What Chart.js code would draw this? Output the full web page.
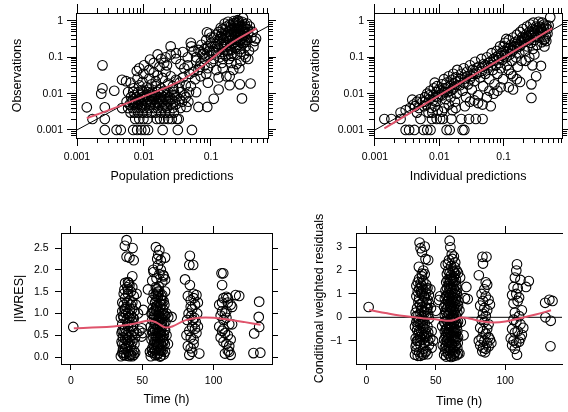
<!DOCTYPE html>
<html>
<head>
<meta charset="utf-8">
<script src="https://cdn.jsdelivr.net/npm/chart.js@4.4.0/dist/chart.umd.min.js"></script>
<style>
  html, body { margin: 0; padding: 0; background: #fff; width: 568px; height: 412px; overflow: hidden; }
  canvas { position: absolute; }
</style>
</head>
<body>
<canvas id="pred" width="284" height="206" style="left:0;top:0"></canvas>
<canvas id="ipred" width="284" height="206" style="left:284px;top:0"></canvas>
<canvas id="iwres" width="284" height="206" style="left:0;top:206px"></canvas>
<canvas id="cwres" width="284" height="206" style="left:284px;top:206px"></canvas>
<script>
// tick values
const logMajor = [0.001, 0.01, 0.1, 1];
const logMinor = [0.0006, 0.0007, 0.0008, 0.0009,
  0.002, 0.003, 0.004, 0.005, 0.006, 0.007, 0.008, 0.009,
  0.02, 0.03, 0.04, 0.05, 0.06, 0.07, 0.08, 0.09,
  0.2, 0.3, 0.4, 0.5, 0.6, 0.7, 0.8, 0.9];
const timeTicks = [0, 50, 100];
const iwresTicks = [0, 0.5, 1, 1.5, 2, 2.5];
const cwresTicks = [-1, 0, 1, 2, 3];

// [population prediction, observation]
const obsVsPred = [
  [0.0026,0.001],[0.0039,0.001],[0.0045,0.001],[0.0069,0.001],[0.0079,0.001],[0.0091,0.001],[0.0103,0.001],[0.0115,0.001],[0.019,0.001],[0.032,0.001],[0.052,0.001],
  [0.0017,0.002],[0.0026,0.002],[0.0074,0.002],[0.0085,0.002],[0.0098,0.002],[0.0113,0.002],[0.0155,0.002],[0.0174,0.002],[0.0199,0.002],[0.023,0.002],[0.026,0.002],[0.031,0.002],[0.033,0.002],
  [0.0014,0.0042],[0.0026,0.0042],[0.0024,0.06],[0.0024,0.014],[0.0023,0.01],[0.0036,0.012],[0.0047,0.024],[0.0054,0.022],[0.0063,0.02],
  [0.0063,0.003],[0.0072,0.003],[0.0082,0.003],[0.0095,0.003],[0.011,0.003],[0.013,0.003],[0.015,0.003],[0.018,0.003],[0.021,0.003],[0.024,0.003],[0.028,0.003],
  [0.0047,0.004],[0.0058,0.004],[0.0068,0.004],[0.0077,0.004],[0.0088,0.004],[0.0101,0.004],[0.012,0.004],[0.014,0.004],[0.016,0.004],[0.019,0.004],[0.022,0.004],[0.027,0.004],[0.035,0.004],[0.043,0.0043],[0.065,0.0043],[0.088,0.0043],
  [0.0061,0.005],[0.007,0.005],[0.0081,0.005],[0.0093,0.005],[0.0107,0.005],[0.0125,0.005],[0.0145,0.005],[0.017,0.005],[0.02,0.005],[0.025,0.005],[0.03,0.005],
  [0.0055,0.006],[0.0066,0.006],[0.0076,0.006],[0.009,0.006],[0.011,0.006],[0.013,0.006],[0.016,0.006],[0.019,0.006],[0.023,0.006],[0.029,0.006],[0.037,0.006],[0.046,0.006],
  [0.0068,0.007],[0.0083,0.007],[0.0098,0.007],[0.0118,0.007],[0.014,0.007],[0.017,0.007],[0.021,0.007],[0.026,0.007],[0.034,0.007],[0.11,0.0072],[0.29,0.0074],
  [0.0064,0.008],[0.0078,0.008],[0.0094,0.008],[0.011,0.008],[0.013,0.008],[0.016,0.008],[0.02,0.008],[0.024,0.008],[0.031,0.008],[0.042,0.008],
  [0.0072,0.009],[0.0088,0.009],[0.0105,0.009],[0.0125,0.009],[0.015,0.009],[0.018,0.009],[0.022,0.009],[0.028,0.009],
  [0.0058,0.011],[0.0069,0.011],[0.0082,0.011],[0.0097,0.011],[0.0115,0.011],[0.0135,0.011],[0.016,0.011],[0.019,0.011],[0.023,0.011],[0.028,0.011],[0.036,0.011],[0.047,0.011],[0.06,0.011],
  [0.0072,0.0055],[0.0085,0.0065],[0.0095,0.0045],[0.011,0.0095],[0.0125,0.0065],[0.014,0.0085],[0.016,0.0055],[0.018,0.0075],[0.021,0.0045],[0.024,0.0065],
  [0.027,0.013],[0.012,0.013],[0.0092,0.0125],[0.015,0.016],[0.02,0.012],[0.033,0.014],[0.04,0.009],[0.05,0.016],[0.055,0.04],[0.045,0.06],
  [0.007,0.014],[0.0085,0.017],[0.0095,0.021],[0.011,0.015],[0.012,0.026],[0.013,0.018],[0.015,0.022],[0.016,0.032],[0.018,0.014],[0.019,0.027],[0.021,0.04],[0.023,0.019],
  [0.025,0.03],[0.027,0.016],[0.03,0.024],[0.034,0.02],[0.038,0.028],[0.042,0.017],[0.008,0.026],[0.0098,0.035],[0.012,0.045],[0.014,0.038],[0.017,0.055],[0.02,0.07],
  [0.01,0.06],[0.0085,0.05],[0.0078,0.042],[0.0123,0.087],[0.014,0.07],[0.025,0.12],[0.025,0.2],[0.03,0.13],[0.03,0.09],[0.035,0.065],[0.04,0.05],[0.045,0.1],
  [0.051,0.2],[0.05,0.25],[0.055,0.15],[0.06,0.08],[0.065,0.045],[0.07,0.03],[0.075,0.12],[0.08,0.06],[0.087,0.49],[0.09,0.02],[0.095,0.15],[0.048,0.035],
  [0.058,0.025],[0.068,0.055],[0.038,0.14],[0.021,0.1],[0.018,0.09],[0.016,0.12],[0.022,0.06],
  [0.06,0.1],[0.065,0.16],[0.07,0.07],[0.072,0.22],[0.078,0.13],[0.08,0.09],[0.085,0.3],[0.088,0.18],[0.09,0.05],[0.095,0.11],[0.1,0.24],[0.1,0.07],
  [0.105,0.15],[0.11,0.35],[0.11,0.09],[0.115,0.2],[0.12,0.13],[0.12,0.045],[0.125,0.28],[0.13,0.5],[0.13,0.17],[0.135,0.1],[0.14,0.38],[0.14,0.23],
  [0.145,0.07],[0.15,0.14],[0.15,0.6],[0.155,0.3],[0.16,0.19],[0.16,0.45],[0.165,0.11],[0.17,0.25],[0.17,0.7],[0.175,0.35],[0.18,0.16],[0.18,0.5],
  [0.185,0.09],[0.19,0.28],[0.19,0.8],[0.2,0.4],[0.2,0.21],[0.205,0.6],[0.21,0.13],[0.21,0.33],[0.215,0.045],[0.22,0.5],[0.22,0.25],[0.225,0.75],
  [0.23,0.18],[0.23,0.38],[0.235,0.9],[0.24,0.3],[0.24,0.55],[0.245,0.12],[0.25,0.45],[0.25,0.65],[0.255,0.22],[0.26,0.35],[0.26,0.8],[0.265,0.05],
  [0.27,0.28],[0.27,0.52],[0.275,0.17],[0.28,0.42],[0.28,0.7],[0.29,0.95],[0.29,0.33],[0.3,0.6],[0.3,0.24],[0.31,0.12],[0.31,0.48],[0.32,0.8],
  [0.32,0.38],[0.33,0.2],[0.34,0.6],[0.35,0.3],[0.36,0.45],[0.37,0.15],[0.38,0.7],[0.4,0.35],[0.42,0.5],[0.45,0.28],[0.47,0.33],[0.3,1.2],
  [0.22,1.0],[0.18,0.95],[0.25,1.05],[0.16,0.85],[0.14,0.65],[0.12,0.42],[0.1,0.35],[0.095,0.45],[0.19,0.03],[0.27,0.018],[0.39,0.019],[0.13,0.013],
  [0.17,0.03],[0.13,0.028],[0.24,0.065],[0.28,0.08],[0.33,0.1],[0.2,0.07],[0.15,0.05],[0.085,0.035],[0.19,0.017],[0.36,0.09],[0.43,0.2],[0.2,0.11],
  [0.125,0.2],[0.135,0.32],[0.145,0.45],[0.155,0.22],[0.165,0.58],[0.175,0.15],[0.185,0.38],[0.195,0.55],[0.205,0.3],[0.215,0.85],
  [0.225,0.4],[0.235,0.27],[0.245,0.7],[0.255,0.9],[0.265,0.6],[0.275,0.45],[0.285,0.25],[0.295,0.75],[0.305,0.4],[0.315,0.65],
  [0.325,0.5],[0.335,0.3],[0.345,0.85],[0.355,0.6],[0.2,0.16],[0.24,0.19],[0.28,0.14],[0.18,0.12],[0.15,0.09],[0.32,0.27],
  [0.26,1.0],[0.2,0.75],[0.22,0.65],[0.17,0.4],[0.15,0.35],[0.13,0.26],[0.11,0.14],[0.09,0.2],[0.08,0.17],[0.07,0.14]
];

// [individual prediction, observation]
const obsVsIpred = [
  [0.003,0.001],[0.0034,0.001],[0.0041,0.001],[0.0057,0.001],[0.0065,0.001],[0.0073,0.001],[0.013,0.001],[0.0145,0.001],[0.023,0.001],[0.0245,0.001],
  [0.0014,0.002],[0.0018,0.002],[0.0025,0.002],[0.0051,0.002],[0.0077,0.002],[0.0091,0.002],[0.0103,0.002],[0.0114,0.002],[0.0154,0.002],[0.022,0.002],[0.029,0.002],[0.037,0.002],[0.047,0.002],
  [0.0025,0.003],[0.003,0.0035],[0.0035,0.004],[0.0038,0.0068],[0.004,0.005],[0.0045,0.006],[0.0048,0.004],[0.005,0.007],[0.0045,0.003],[0.0042,0.0045],
  [0.0055,0.006],[0.006,0.008],[0.0062,0.005],[0.0065,0.01],[0.007,0.007],[0.0072,0.012],[0.0075,0.004],[0.008,0.009],[0.0082,0.014],[0.0085,0.02],
  [0.0088,0.006],[0.009,0.011],[0.0092,0.016],[0.0095,0.008],[0.0098,0.013],[0.0068,0.003],[0.0078,0.003],[0.0085,0.0045],[0.0095,0.0035],[0.0058,0.0045],
  [0.0105,0.012],[0.011,0.018],[0.0112,0.009],[0.0118,0.025],[0.012,0.014],[0.0125,0.007],[0.013,0.02],[0.0135,0.011],[0.014,0.03],[0.0145,0.016],
  [0.015,0.008],[0.0155,0.024],[0.016,0.013],[0.0165,0.035],[0.017,0.019],[0.0175,0.006],[0.018,0.028],[0.0185,0.01],[0.019,0.045],[0.0195,0.022],
  [0.012,0.004],[0.014,0.005],[0.016,0.0035],[0.018,0.004],[0.011,0.0032],
  [0.021,0.017],[0.022,0.035],[0.023,0.012],[0.024,0.05],[0.025,0.026],[0.026,0.008],[0.027,0.04],[0.028,0.018],[0.03,0.06],[0.031,0.03],
  [0.032,0.013],[0.033,0.045],[0.035,0.022],[0.036,0.075],[0.038,0.035],[0.04,0.009],[0.041,0.055],[0.043,0.028],[0.045,0.09],[0.046,0.042],
  [0.048,0.016],[0.049,0.065],[0.047,0.005],[0.04,0.0055],[0.03,0.006],[0.025,0.0045],[0.035,0.0065],
  [0.052,0.035],[0.055,0.1],[0.057,0.05],[0.06,0.025],[0.062,0.075],[0.063,0.0045],[0.065,0.13],[0.068,0.045],[0.07,0.09],[0.072,0.018],
  [0.075,0.06],[0.078,0.15],[0.08,0.035],[0.082,0.11],[0.085,0.07],[0.088,0.2],[0.09,0.05],[0.092,0.13],[0.095,0.085],[0.098,0.025],
  [0.06,0.012],[0.07,0.01],[0.08,0.012],[0.09,0.015],[0.055,0.008],
  [0.1,0.15],[0.105,0.25],[0.11,0.1],[0.112,0.06],[0.115,0.18],[0.12,0.3],[0.125,0.12],[0.13,0.035],[0.13,0.22],[0.135,0.08],
  [0.14,0.35],[0.142,0.16],[0.14,0.013],[0.15,0.26],[0.155,0.1],[0.16,0.42],[0.162,0.19],[0.165,0.055],[0.17,0.3],[0.175,0.13],
  [0.18,0.5],[0.185,0.22],[0.18,0.021],[0.19,0.08],[0.195,0.36],[0.12,0.045],[0.14,0.03],[0.16,0.025],[0.1,0.2],[0.11,0.32],
  [0.2,0.6],[0.21,0.27],[0.215,0.15],[0.22,0.42],[0.23,0.7],[0.235,0.2],[0.24,0.33],[0.25,0.5],[0.25,0.1],[0.26,0.8],
  [0.265,0.25],[0.27,0.38],[0.27,0.0076],[0.28,0.6],[0.285,0.17],[0.29,0.9],[0.3,0.3],[0.31,0.45],[0.32,0.03],[0.32,0.7],
  [0.33,0.22],[0.34,0.55],[0.35,0.95],[0.36,0.35],[0.38,0.058],[0.38,0.65],[0.39,0.26],[0.4,0.5],[0.42,0.8],[0.43,0.2],
  [0.45,0.4],[0.46,0.28],[0.48,0.6],[0.5,0.75],[0.53,1.26],[0.42,0.3],[0.44,0.32],[0.3,0.12],[0.22,0.08],[0.28,0.06],
  [0.27,0.018],[0.12,0.015],[0.36,0.7],[0.3,0.55],[0.25,0.4],[0.21,0.35],[0.17,0.22],[0.15,0.2],[0.4,0.9],[0.46,0.75],
  [0.006,0.006],[0.007,0.009],[0.008,0.0065],[0.009,0.0085],[0.0105,0.0095],[0.012,0.011],[0.0135,0.015],[0.015,0.012],[0.017,0.015],[0.019,0.017],
  [0.021,0.025],[0.024,0.02],[0.027,0.03],[0.03,0.025],[0.034,0.035],[0.038,0.05],[0.042,0.04],[0.047,0.055],[0.052,0.06],[0.058,0.07],
  [0.064,0.06],[0.07,0.08],[0.077,0.1],[0.085,0.095],[0.093,0.11],[0.105,0.12],[0.115,0.14],[0.125,0.18],[0.135,0.15],[0.145,0.2],
  [0.16,0.24],[0.175,0.2],[0.19,0.28],[0.21,0.31],[0.23,0.36],[0.25,0.3],[0.27,0.48],[0.29,0.42],[0.31,0.36],[0.33,0.62],
  [0.36,0.5],[0.39,0.55],[0.42,0.62],[0.45,0.65],[0.48,0.45]
];

// [time (h), |IWRES|]
const iwresVsTime = [
  [1.6,0.69],
  [35,0.02],[36,0.1],[37,0.05],[38,0.2],[39,0.03],[40,0.12],[41,0.06],[42,0.25],[43,0.02],[44,0.15],
  [35.5,0.35],[36.5,0.45],[37.5,0.3],[38.5,0.55],[39.5,0.4],[40.5,0.6],[41.5,0.38],[42.5,0.5],[43.5,0.7],[45,0.45],
  [36,0.75],[37,0.9],[38,0.65],[39,0.85],[40,1.0],[41,0.8],[42,0.95],[43,1.1],[44,0.88],[36,1.05],
  [37,1.2],[38,1.35],[39,1.15],[40,1.45],[41,1.3],[42,1.5],[43,1.25],[44,1.4],[37.5,1.55],[39.5,1.6],
  [40.5,1.7],[38,1.7],[41,1.65],[43,1.85],[40,1.72],[39,2.3],[41,2.28],[37.8,2.55],[39,2.68],[43.2,2.5],
  [44,2.22],[36,1.25],[35,0.9],[36.5,0.18],[38.5,0.08],[42,0.7],[44.5,1.05],[45.5,1.2],[46,1.45],[47,1.0],
  [48,0.6],[46,0.55],[43,0.35],[45,0.1],[41,0.02],[37,0.6],
  [35.5,0.55],[36.5,0.95],[37.5,1.1],[38.5,1.0],[39.5,0.75],[40.5,0.28],[41.5,1.1],[42.5,0.15],[43.5,0.9],[44.5,0.3],
  [36,0.3],[38,0.42],[40,0.35],[42,0.05],[44,0.6],[39,0.5],[41,0.9],[37,1.45],[43,1.6],[39.5,1.25],
  [37,0.1],[39,0.25],[41,0.45],[43,0.8],[38,1.1],[40,0.7],[42,1.2],[44,0.05],[36,0.6],[40,1.55],
  [56,0.02],[57.5,0.1],[59,0.04],[60,0.2],[61,0.08],[62,0.15],[63,0.03],[64,0.25],[65,0.06],[66,0.12],[58,0.28],[62.5,0.01],
  [56.5,0.4],[57.5,0.55],[58.5,0.35],[59.5,0.48],[60.5,0.33],[61.5,0.58],[62.5,0.42],[63.5,0.5],[64.5,0.37],[65.5,0.6],[60,0.45],[63,0.3],
  [56,0.7],[57,0.85],[58,0.65],[59,0.78],[60,0.9],[61,0.68],[62,0.82],[63,0.72],[64,0.88],[65,0.75],[66,0.62],[61.5,0.95],
  [56.5,1.0],[57.5,1.12],[58.5,0.95],[59.5,1.08],[60.5,1.18],[61.5,1.02],[62.5,1.15],[63.5,0.98],[64.5,1.1],[65.5,1.2],[60,1.05],
  [57,1.3],[58,1.45],[59,1.25],[60,1.55],[61,1.38],[62,1.5],[63,1.32],[64,1.42],[65,1.28],[66,1.5],[59.5,1.6],[61.5,1.62],
  [57,1.75],[58,1.95],[60,1.8],[62,1.9],[63,2.0],[64,1.72],[65,1.85],[66,1.78],[59.6,2.52],[61.2,2.34],[57.7,2.0],[64.7,1.88],
  [63,2.22],[61,2.1],[62,2.45],[60.5,2.25],[66,2.28],
  [57,0.2],[59,0.62],[61,0.25],[63,0.88],[65,0.35],[58,1.05],[62,0.55],[64,0.7],[60,1.3],[66,0.95],
  [56.8,0.15],[57.8,0.45],[58.8,0.75],[59.8,1.15],[60.8,1.45],[61.8,0.1],[62.8,0.5],[63.8,0.8],[64.8,1.0],[65.8,0.3],
  [57.2,1.0],[58.2,0.2],[59.2,0.35],[60.2,0.65],[61.2,0.85],[62.2,1.25],[63.2,1.4],[64.2,0.15],[65.2,0.5],[66.2,0.8],
  [57.4,0.6],[58.4,0.9],[59.4,1.4],[60.4,0.05],[61.4,0.3],[62.4,0.7],[63.4,1.2],[64.4,0.45],[65.4,0.95],[62,0.3],
  [59,0.15],[60,0.75],[61,1.5],[62,1.05],[63,0.6],[64,1.3],[61,0.45],[60,0.3],[62,0.9],[63,0.15],
  [55.4,0.12],[70.6,0.92],[68.2,0.92],[50.7,1.08],[49.5,0.47],[49.6,0.66],[50.3,0.55],[67,0.5],[67,1.0],[54,1.55],[68,0.3],
  [80,1.78],[83.4,2.32],[83,2.11],[85.7,2.11],[83.4,1.65],[82,1.4],[84,1.3],[86,1.35],[88,1.42],[87,1.2],
  [89,1.25],[85,1.1],[82.5,1.0],[84.5,0.95],[86.5,0.9],[88.5,1.0],[81,0.5],[83,0.6],[85,0.7],[87,0.65],
  [89,0.7],[84,0.45],[86,0.4],[82,0.25],[84,0.2],[85,0.12],[83,0.05],[86,0.3],[88,0.55],[87.5,0.8],
  [85.5,0.85],[90,0.08],[81.5,0.85],[84,1.15],[86,1.45],
  [105.6,1.92],[106.8,1.92],[106,1.65],[115.5,1.42],[107,1.35],[109,1.38],[104,1.2],[106,1.05],[108,1.0],[110,1.25],
  [112,1.2],[113,1.15],[118,1.4],[105,0.95],[107,0.85],[109,0.9],[111,0.75],[104,0.7],[106,0.6],[108,0.55],
  [110,0.5],[112,0.4],[105,0.45],[107,0.35],[109,0.3],[111,0.25],[110,0.15],[112,0.05],[108,0.08],[111,0.12],
  [107,0.65],[109,1.05],[113,0.75],[106,1.25],[110,1.35],
  [128.5,0.54],[132,1.27],[131.7,0.92],[132,0.69],[128,0.09],[132.8,0.1]
];

// [time (h), CWRES]
const cwresVsTime = [
  [1.6,0.44],
  [35,-1.6],[36,-1.4],[37,-1.65],[38,-1.5],[39,-1.2],[40,-1.55],[41,-1.35],[42,-1.1],[43,-1.45],[44,-1.58],[45,-1.2],
  [35.5,-0.9],[36.5,-1.0],[37.5,-0.7],[38.5,-0.85],[39.5,-0.6],[40.5,-0.95],[41.5,-0.75],[42.5,-0.5],[43.5,-0.8],[44.5,-0.65],[46,-0.9],
  [35,-0.4],[36,-0.2],[37,-0.35],[38,-0.1],[39,-0.3],[40,0.0],[41,-0.15],[42,-0.25],[43,0.05],[44,-0.4],[45,-0.05],
  [35.5,0.2],[36.5,0.4],[37.5,0.1],[38.5,0.55],[39.5,0.3],[40.5,0.65],[41.5,0.25],[42.5,0.45],[43.5,0.6],[44.5,0.15],
  [36,0.9],[37,1.1],[38,0.8],[39,1.3],[40,1.0],[41,1.2],[42,0.85],[43,1.05],[44,0.75],[45,0.95],
  [37,1.5],[38,1.65],[39,1.45],[40,1.75],[41,1.55],[42,1.85],[43,1.4],[36,1.35],
  [38.3,3.2],[39,2.96],[42,3.03],[40,2.8],[42.6,2.5],[44.5,2.45],[37.8,2.16],[40,1.87],[41,2.0],[46,1.2],[47,-0.6],[46.5,0.4],[48,-1.0],[47,-1.3],
  [35.5,-1.25],[36.5,-0.55],[37.5,0.65],[38.5,-1.0],[39.5,1.1],[40.5,-0.25],[41.5,0.9],[42.5,-1.5],[43.5,0.35],[44.5,-1.0],
  [36,0.05],[38,1.2],[40,-0.75],[42,0.2],[44,1.25],[39,-1.65],[41,-1.6],[37,-0.15],[43,-0.7],[45,0.6],
  [37,-1.0],[39,0.15],[41,-0.45],[43,1.2],[38,-0.6],[40,0.45],[42,-0.85],[44,0.4],[36,-1.15],[40,1.35],
  [56,-1.6],[57.5,-1.68],[59,-1.55],[60,-1.65],[61,-1.7],[62,-1.58],[63,-1.66],[64,-1.5],[65,-1.62],[66,-1.55],
  [56.5,-1.3],[57.5,-1.2],[58.5,-1.38],[59.5,-1.25],[60.5,-1.35],[61.5,-1.15],[62.5,-1.4],[63.5,-1.28],[64.5,-1.2],[65.5,-1.33],
  [56,-0.95],[57,-0.85],[58,-1.0],[59,-0.9],[60,-1.05],[61,-0.8],[62,-0.95],[63,-0.88],[64,-1.02],[65,-0.9],[66,-0.85],
  [56.5,-0.6],[57.5,-0.5],[58.5,-0.65],[59.5,-0.55],[60.5,-0.7],[61.5,-0.45],[62.5,-0.6],[63.5,-0.52],[64.5,-0.68],[65.5,-0.58],
  [56,-0.2],[57,-0.3],[58,-0.15],[59,-0.28],[60,-0.1],[61,-0.35],[62,-0.22],[63,-0.3],[64,-0.12],[65,-0.25],[66,-0.18],
  [56.5,0.1],[57.5,0.2],[58.5,0.05],[59.5,0.15],[60.5,0.25],[61.5,0.0],[62.5,0.12],[63.5,0.22],[64.5,0.08],[65.5,0.18],
  [56,0.45],[57,0.55],[58,0.38],[59,0.5],[60,0.6],[61,0.4],[62,0.52],[63,0.45],[64,0.58],[65,0.42],[66,0.5],
  [56.5,0.8],[57.5,0.9],[58.5,0.72],[59.5,0.85],[60.5,0.95],[61.5,0.78],[62.5,0.88],[63.5,0.82],[64.5,0.75],[65.5,0.92],
  [57,1.15],[58,1.25],[59,1.05],[60,1.2],[61,1.3],[62,1.1],[63,1.22],[64,1.15],[65,1.05],
  [57.5,1.5],[58.5,1.6],[59.5,1.45],[60.5,1.55],[61.5,1.65],[62.5,1.4],[63.5,1.52],[64.5,1.6],
  [58,1.85],[59,2.0],[60,1.9],[61,1.8],[62,2.05],[63,1.95],[64,1.88],[65,2.0],[66,1.9],
  [56.8,-1.45],[57.8,-1.05],[58.8,-0.75],[59.8,-0.4],[60.8,-0.05],[61.8,0.3],[62.8,0.65],[63.8,1.0],[64.8,1.35],[65.8,-1.1],
  [57.2,0.3],[58.2,-0.45],[59.2,1.35],[60.2,-1.45],[61.2,1.05],[62.2,-0.8],[63.2,-0.05],[64.2,0.35],[65.2,-0.4],[66.2,0.7],
  [57.4,-0.75],[58.4,0.95],[59.4,-1.1],[60.4,0.45],[61.4,-0.6],[62.4,1.6],[63.4,-1.55],[64.4,-0.3],[65.4,1.2],[62,-1.2],
  [59,0.7],[60,-0.35],[61,-1.15],[62,0.35],[63,1.7],[64,-0.85],[61,0.65],[60,1.65],[62,-0.05],[63,-0.65],
  [60,3.28],[60.5,3.0],[61.5,2.7],[58.7,2.3],[62,2.5],[63,2.6],[61,2.2],[64,2.35],[59.5,2.45],[63.5,2.15],[57,2.25],
  [52.3,0.74],[50,0.28],[54.6,-0.38],[72,1.3],[71,0.82],[73,0.78],[70,-0.77],[67,-1.55],[67,0.3],[68,-0.2],[55,-1.2],[67.5,1.7],[53,0.9],
  [83.6,2.59],[86.5,2.59],[84,2.3],[81,1.8],[86,1.5],[87,1.4],[85,1.2],[83,1.0],[86,0.9],[88,0.75],
  [84,0.7],[82,0.5],[85,0.4],[87,0.3],[84,0.15],[86,0.05],[83,-0.1],[85,-0.2],[88,-0.3],[82,-0.45],
  [84,-0.6],[86,-0.7],[88,-0.85],[83,-0.9],[85,-1.0],[87,-1.1],[89,-0.95],[82,-1.2],[84,-1.3],[86,-1.35],
  [88,-1.25],[83.5,-1.45],[85.5,-1.5],[90,-1.1],[89,0.55],[87,-0.5],[81,-1.0],
  [108.5,2.27],[108,2.0],[107,1.7],[117,1.55],[115,1.3],[106,1.3],[109,1.25],[111,1.6],[105,0.95],[108,1.0],
  [110,0.85],[106,0.6],[109,0.7],[112,0.3],[107,0.2],[110,0.05],[106,-0.1],[108,-0.2],[111,-0.3],[113,-0.45],
  [105,-0.5],[107,-0.65],[109,-0.6],[112,-0.75],[104,-0.9],[106,-1.0],[108,-1.1],[110,-1.05],[105,-1.2],[107,-1.35],
  [108.5,-1.6],[111,-0.9],
  [128.8,0.62],[131.8,0.75],[134.1,0.7],[129,0.0],[132.8,-0.15],[132.6,-1.24]
];

// smooth (loess) curves
const predSmooth = [[0.0014,0.0021],[0.003,0.0035],[0.0098,0.0083],[0.031,0.02],[0.069,0.051],[0.107,0.098],[0.21,0.26],[0.48,0.63]];
const ipredSmooth = [[0.0014,0.0011],[0.01,0.009],[0.1,0.1],[0.57,0.63]];
const iwresSmooth = [[2,0.66],[20,0.68],[38,0.73],[48,0.79],[55,0.84],[60,0.79],[66,0.68],[71,0.7],[80,0.84],[90,0.9],[100,0.9],[110,0.86],[122,0.8],[133,0.74]];
const cwresSmooth = [[2,0.31],[15,0.17],[30,0.03],[42,-0.05],[52,-0.1],[60,-0.15],[64,-0.1],[68,-0.01],[74,-0.05],[84,-0.18],[92,-0.22],[100,-0.18],[110,-0.05],[122,0.12],[133,0.3]];
const identity = [[0.0005,0.0005],[2,2]];
const zeroLine = [[-10,0],[150,0]];

const RED = '#DF536B';
const FONT = "'Liberation Sans', Arial, Helvetica, sans-serif";
Chart.defaults.font.family = FONT;
Chart.defaults.color = '#000';
Chart.defaults.animation = false;
Chart.defaults.plugins.legend.display = false;
Chart.defaults.plugins.tooltip.enabled = false;

const toXY = pairs => pairs.map(([x, y]) => ({ x, y }));

function makeAxis(o) {
  return {
    type: o.type, axis: o.axis, position: o.pos, min: o.min, max: o.max, display: true,
    weight: o.minor ? 0 : 1,
    afterBuildTicks: s => { s.ticks = o.ticks.filter(v => v >= o.min && v <= o.max).map(v => ({ value: v })); },
    afterFit: s => { if (s.isHorizontal()) s.height = o.size; else s.width = o.size; },
    grid: { drawOnChartArea: false, drawTicks: true, tickLength: o.tick, color: '#000', tickColor: '#000', tickWidth: 1 },
    border: { display: !o.minor, color: '#000', width: 1 },
    ticks: {
      display: !!o.fmt, autoSkip: false, maxRotation: 0, minRotation: 0, padding: o.pad || 0,
      font: { size: 10.5 }, color: '#000', callback: o.fmt || (() => '')
    },
    title: o.title
      ? { display: true, text: o.title, color: '#000', font: { size: 12.5 }, padding: o.titlePad }
      : { display: false }
  };
}

// one log-log panel with major + short minor ticks on every side
function logScales(p) {
  const xs = { axis: 'x', type: 'logarithmic', min: p.xMin, max: p.xMax };
  const ys = { axis: 'y', type: 'logarithmic', min: p.yMin, max: p.yMax };
  return {
    x: makeAxis({ ...xs, pos: 'bottom', ticks: logMajor, size: 68, tick: 8, pad: 5, fmt: v => String(v),
                  title: p.xTitle, titlePad: { top: 0, bottom: 22 } }),
    xm: makeAxis({ ...xs, pos: 'bottom', ticks: logMinor, size: 0, tick: 5, minor: true }),
    x2: makeAxis({ ...xs, pos: 'top', ticks: logMajor, size: 13, tick: 9 }),
    x2m: makeAxis({ ...xs, pos: 'top', ticks: logMinor, size: 0, tick: 5, minor: true }),
    y: makeAxis({ ...ys, pos: 'left', ticks: logMajor, size: p.left, tick: p.yTick, pad: p.yPad, fmt: v => String(v),
                  title: 'Observations', titlePad: { top: p.yTitlePad, bottom: 0 } }),
    ym: makeAxis({ ...ys, pos: 'left', ticks: logMinor, size: 0, tick: 5, minor: true }),
    y2: makeAxis({ ...ys, pos: 'right', ticks: logMajor, size: p.right, tick: 8 }),
    y2m: makeAxis({ ...ys, pos: 'right', ticks: logMinor, size: 0, tick: 5, minor: true })
  };
}

function pointSet(pairs) {
  return {
    data: toXY(pairs), pointRadius: 4.8, pointHoverRadius: 4.8, pointStyle: 'circle',
    borderColor: '#000', pointBorderColor: '#000', backgroundColor: 'rgba(0,0,0,0)',
    pointBackgroundColor: 'rgba(0,0,0,0)', borderWidth: 1.1, pointBorderWidth: 1.1
  };
}
function lineSet(pairs, color, width, tension) {
  return { data: toXY(pairs), showLine: true, pointRadius: 0, borderColor: color, borderWidth: width, tension: tension, fill: false };
}

// the long CWRES title is drawn unclipped (a scale title would be squeezed to the axis height)
const longYTitle = {
  id: 'longYTitle',
  afterDraw(chart, args, opts) {
    const { ctx, chartArea } = chart;
    ctx.save();
    ctx.translate(opts.x, (chartArea.top + chartArea.bottom) / 2);
    ctx.rotate(-Math.PI / 2);
    ctx.font = '12.5px ' + FONT;
    ctx.fillStyle = '#000';
    ctx.textAlign = 'center';
    ctx.textBaseline = 'middle';
    ctx.fillText(opts.text, 0, 0);
    ctx.restore();
  }
};

function panel(id, datasets, scales, extra) {
  const cfg = {
    type: 'scatter',
    data: { datasets },
    options: { responsive: false, events: [], layout: { padding: 0 }, scales, plugins: {} }
  };
  if (extra) {
    cfg.plugins = [longYTitle];
    cfg.options.plugins.longYTitle = extra;
  }
  new Chart(document.getElementById(id), cfg);
}

panel('pred', [lineSet(predSmooth, RED, 2, 0.4), lineSet(identity, '#000', 1, 0), pointSet(obsVsPred)],
  logScales({ xMin: 0.000966, xMax: 0.71, yMin: 0.000603, yMax: 1.66, xTitle: 'Population predictions',
              left: 76, right: 16, yTick: 9, yPad: 4, yTitlePad: 10 }));

panel('ipred', [lineSet(ipredSmooth, RED, 2, 0.4), lineSet(identity, '#000', 1, 0), pointSet(obsVsIpred)],
  logScales({ xMin: 0.000966, xMax: 0.81, yMin: 0.000603, yMax: 1.66, xTitle: 'Individual predictions',
              left: 90, right: 1, yTick: 7, yPad: 3, yTitlePad: 24 }));

const tx = { axis: 'x', type: 'linear' };

panel('iwres', [lineSet(iwresSmooth, RED, 2, 0.4), pointSet(iwresVsTime)], {
  x: makeAxis({ ...tx, min: -7, max: 141, pos: 'bottom', ticks: timeTicks, size: 48, tick: 6, pad: 5, fmt: v => String(v),
                title: 'Time (h)', titlePad: { top: 0, bottom: 4.5 } }),
  x2: makeAxis({ ...tx, min: -7, max: 141, pos: 'top', ticks: timeTicks, size: 27, tick: 7 }),
  y: makeAxis({ axis: 'y', type: 'linear', min: -0.16, max: 2.844, pos: 'left', ticks: iwresTicks, size: 61, tick: 6, pad: 6.5,
                fmt: v => v.toFixed(1), title: '|IWRES|', titlePad: { top: 12.5, bottom: 0 } }),
  y2: makeAxis({ axis: 'y', type: 'linear', min: -0.16, max: 2.844, pos: 'right', ticks: iwresTicks, size: 12, tick: 6 })
});

panel('cwres', [lineSet(cwresSmooth, RED, 2, 0.4), lineSet(zeroLine, '#000', 1, 0), pointSet(cwresVsTime)], {
  x: makeAxis({ ...tx, min: -7.5, max: 141, pos: 'bottom', ticks: timeTicks, size: 48, tick: 6, pad: 5, fmt: v => String(v),
                title: 'Time (h)', titlePad: { top: 0, bottom: 3 } }),
  x2: makeAxis({ ...tx, min: -7.5, max: 141, pos: 'top', ticks: timeTicks, size: 27, tick: 7 }),
  y: makeAxis({ axis: 'y', type: 'linear', min: -2.0, max: 3.61, pos: 'left', ticks: cwresTicks, size: 72, tick: 7.5, pad: 6.5,
                fmt: v => (v < 0 ? '\u2212' + Math.abs(v) : String(v)) })
}, { text: 'Conditional weighted residuals', x: 35.5 });
</script>
</body>
</html>
